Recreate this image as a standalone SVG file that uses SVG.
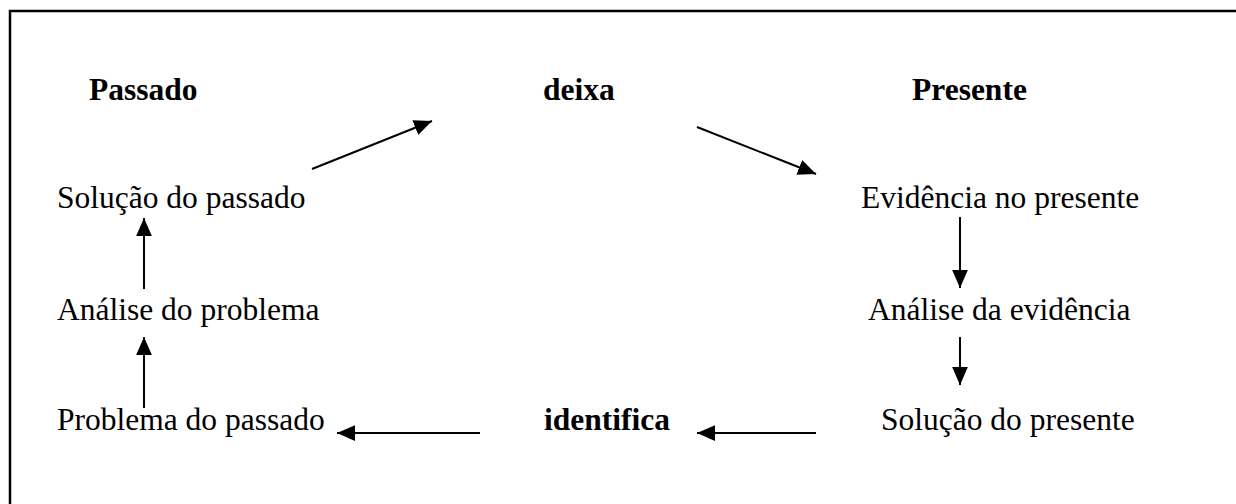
<svg xmlns="http://www.w3.org/2000/svg" width="1236" height="504" viewBox="0 0 1236 504">
<style>
text{font-family:"Liberation Serif","Times New Roman",serif;font-size:31.5px;fill:#000}
.b{font-weight:bold}
.c{stroke:#000;stroke-width:2;fill:none;marker-end:url(#ah)}
</style>
<defs>
<marker id="ah" markerUnits="userSpaceOnUse" markerWidth="18" markerHeight="16" viewBox="0 0 16 14" refX="16" refY="7" orient="auto">
<path d="M0,0 L16,7 L0,14 Z" fill="#000"/>
</marker>
</defs>
<rect x="10" y="11" width="1240" height="510" fill="none" stroke="#000" stroke-width="2.5"/>
<g id="n-passado"><text class="b" x="89" y="100">Passado</text></g>
<g id="n-deixa"><text class="b" x="543" y="100">deixa</text></g>
<g id="n-presente"><text class="b" x="912" y="100">Presente</text></g>
<g id="n-solucao-passado"><text x="57" y="208">Solução do passado</text></g>
<g id="n-analise-problema"><text x="57" y="320">Análise do problema</text></g>
<g id="n-problema-passado"><text x="57" y="430">Problema do passado</text></g>
<g id="n-evidencia"><text x="861" y="208">Evidência no presente</text></g>
<g id="n-analise-evidencia"><text x="868" y="320">Análise da evidência</text></g>
<g id="n-solucao-presente"><text x="881" y="430">Solução do presente</text></g>
<g id="n-identifica"><text class="b" x="544" y="430">identifica</text></g>
<g id="connectors">
<line class="c" x1="312" y1="169" x2="432" y2="121"/>
<line class="c" x1="697" y1="127" x2="816" y2="174"/>
<line class="c" x1="960" y1="217" x2="960" y2="288"/>
<line class="c" x1="960" y1="337" x2="960" y2="385"/>
<line class="c" x1="816" y1="433" x2="697" y2="433"/>
<line class="c" x1="480" y1="433" x2="337" y2="433"/>
<line class="c" x1="144" y1="408" x2="144" y2="337"/>
<line class="c" x1="144" y1="289" x2="144" y2="218"/>
</g>
</svg>
